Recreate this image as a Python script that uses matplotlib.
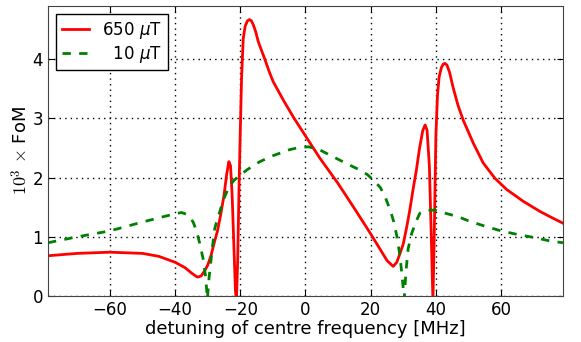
import numpy as np
import matplotlib
matplotlib.use('Agg')
import matplotlib.pyplot as plt

# 650 uT curve
red_x = [-79, -70, -60, -50, -45, -40, -37, -35, -33.5, -33, -32, -31, -30, -29, -28,
         -27, -26, -25, -24.2, -23.5, -23, -22.5, -22, -21.5, -21.2, -20.8, -20.4, -20,
         -19.6, -19.1, -18.5, -17.8, -17.2, -16.6, -16, -15.3, -14.5, -13.5, -12.4, -11.2,
         -9.9, -8.4, -6.8, -3.7, 0.4, 4.4, 10, 15, 20, 23, 25, 26.9, 28, 29, 30, 31, 32,
         33, 34, 35, 36, 36.7, 37.3, 38, 38.6, 39.1, 39.5, 40, 40.5, 41, 41.7, 42.3, 42.8,
         43.4, 44.2, 45.3, 46.8, 48.4, 51.5, 54.5, 58.1, 61.7, 66.8, 71.9, 75, 79]
red_y = [0.68, 0.72, 0.74, 0.72, 0.67, 0.57, 0.48, 0.39, 0.33, 0.32, 0.34, 0.42, 0.52, 0.68, 0.9,
         1.1, 1.38, 1.7, 2.05, 2.27, 2.2, 1.7, 0.9, 0.1, -0.1, 0.6, 1.8, 2.8,
         3.7, 4.35, 4.56, 4.65, 4.67, 4.65, 4.58, 4.47, 4.3, 4.15, 3.99, 3.8,
         3.62, 3.47, 3.31, 3.02, 2.67, 2.33, 1.9, 1.48, 1.05, 0.78, 0.6, 0.5, 0.57, 0.72, 0.88, 1.15, 1.45,
         1.8, 2.12, 2.5, 2.8, 2.89, 2.8, 2.2, 1.0, -0.1, 1.0, 2.7, 3.4, 3.7, 3.86, 3.92, 3.93,
         3.9, 3.78, 3.52, 3.22, 2.97, 2.58, 2.25, 1.99, 1.8, 1.6, 1.43, 1.34, 1.23]

# 10 uT curve
green_x = [-79, -70, -60, -50, -45, -40, -38, -36.5, -35.4, -34.4, -33.4, -32.4, -31.3, -30.6,
           -30.1, -29.6, -29, -28.5, -27.8, -27, -26, -25, -24, -23, -22, -21, -18, -14, -10,
           -5, -2, 1, 4, 7.5, 10, 14, 17, 19, 21, 23, 24.4, 26, 27, 28, 29, 29.7, 30.3, 30.8,
           31.5, 32.6, 34, 35.1, 37, 39.7, 42.8, 46.8, 50, 55, 60, 65, 70.9, 75, 79]
green_y = [0.9, 1.0, 1.1, 1.25, 1.32, 1.39, 1.41, 1.38, 1.33, 1.24, 1.09, 0.88, 0.6, 0.3,
           -0.05, 0.3, 0.6, 0.85, 1.15, 1.3, 1.48, 1.65, 1.78, 1.88, 1.95, 2.0, 2.13, 2.27, 2.37,
           2.47, 2.51, 2.52, 2.48, 2.38, 2.31, 2.2, 2.12, 2.05, 1.95, 1.83, 1.68, 1.45, 1.27, 1.02,
           0.67, 0.3, -0.05, 0.4, 0.8, 1.06, 1.27, 1.4, 1.45, 1.45, 1.4, 1.34, 1.27, 1.18, 1.1,
           1.04, 0.98, 0.93, 0.9]

labels = ['650 $\\mu$T', '  10 $\\mu$T']
xticks = [-60, -40, -20, 0, 20, 40, 60]
yticks = [0, 1, 2, 3, 4]

plt.rcParams['xtick.direction'] = 'in'
plt.rcParams['ytick.direction'] = 'in'
plt.rcParams['xtick.top'] = True
plt.rcParams['ytick.right'] = True
plt.rcParams['font.size'] = 12

fig = plt.figure(figsize=(5.81, 3.42), dpi=100)
ax = fig.add_axes([0.0826, 0.1345, 0.8864, 0.848])

ax.plot(red_x, red_y, color='#ff0000', lw=2, label=labels[0])
ax.plot(green_x, green_y, color='#008000', lw=2, ls=(0, (3, 3)), label=labels[1])

ax.set_xlim(-79, 79)
ax.set_ylim(0, 4.9)
ax.set_xticks(xticks)
ax.set_yticks(yticks)
ax.grid(True, color='k', ls=(0, (1, 3)), lw=1)
ax.tick_params(length=4, width=0.8)
for s in ax.spines.values():
    s.set_color('#444444')

ax.set_xlabel('detuning of centre frequency [MHz]', fontsize=13, labelpad=1)
yl = ax.set_ylabel('$10^3$ $\\times$ FoM', fontsize=13, labelpad=1)
yl.set_math_fontfamily('cm')

leg = ax.legend(loc='upper left', fancybox=False, framealpha=1, edgecolor='k',
                handlelength=1.6, borderaxespad=0.5, labelspacing=0.15, borderpad=0.35)
leg.get_frame().set_linewidth(1)

fig.savefig('out.png', dpi=100)
